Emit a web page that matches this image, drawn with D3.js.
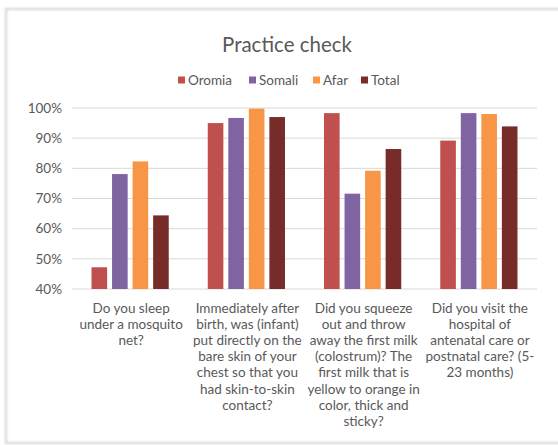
<!DOCTYPE html>
<html>
<head>
<meta charset="utf-8">
<script src="https://cdn.jsdelivr.net/npm/d3@7"></script>
<style>
  body { margin: 0; background: #fff; }
  text { font-family: Lato, "Open Sans", sans-serif; fill: #595959; }
</style>
</head>
<body>
<svg width="558" height="445"></svg>
<script>
// chart data
var categories = ['sleep', 'skin', 'colostrum', 'visit'];
var categoryLines = [
    ['Do you sleep', 'under a mosquito', 'net?'],
    ['Immediately after', 'birth, was (infant)', 'put directly on the', 'bare skin of your',
     'chest so that you', 'had skin-to-skin', 'contact?'],
    ['Did you squeeze', 'out and throw', 'away the first milk', '(colostrum)? The',
     'first milk that is', 'yellow to orange in', 'color, thick and', 'sticky?'],
    ['Did you visit the', 'hospital of', 'antenatal care or', 'postnatal care? (5-', '23 months)']
];
var seriesNames = ['Oromia', 'Somali', 'Afar', 'Total'];
var oromia = [47.2, 95.0, 98.3, 89.2];
var somali = [78.1, 96.7, 71.6, 98.3];
var afar = [82.3, 99.8, 79.2, 98.0];
var total = [64.4, 97.0, 86.4, 93.9];
var yTicks = [40, 50, 60, 70, 80, 90, 100];
var colors = ['#C0504D', '#8064A2', '#F79646', '#772C2A'];

var seriesValues = [oromia, somali, afar, total];

var svg = d3.select('svg');

// drop shadow for the chart frame
var defs = svg.append('defs');
var blur = defs.append('filter').attr('id', 'shadow')
    .attr('x', -0.05).attr('y', -0.05).attr('width', 1.1).attr('height', 1.1);
blur.append('feGaussianBlur').attr('stdDeviation', 1.2);

svg.append('rect')
    .attr('x', 6).attr('y', 9).attr('width', 570).attr('height', 434)
    .attr('fill', 'none').attr('stroke', '#c8c8c8').attr('stroke-width', 1.5)
    .attr('filter', 'url(#shadow)');
svg.append('line')
    .attr('x1', 6).attr('x2', 6).attr('y1', 10).attr('y2', 443)
    .attr('stroke', '#a6a6a6').attr('stroke-width', 2.5)
    .attr('filter', 'url(#shadow)');

var plot = {l: 72, r: 537, t: 108, b: 289};

var x0 = d3.scaleBand()
    .domain(categories)
    .range([plot.l, plot.r]);

var x1 = d3.scaleBand()
    .domain(seriesNames)
    .range([0, x0.bandwidth()])
    .paddingInner(0.24)
    .paddingOuter(0.95);

var y = d3.scaleLinear()
    .domain([40, 100])
    .range([plot.b, plot.t]);

// gridlines
svg.append('g')
    .selectAll('line')
    .data(yTicks)
    .enter()
    .append('line')
    .attr('x1', plot.l).attr('x2', plot.r)
    .attr('y1', function(d) { return y(d); })
    .attr('y2', function(d) { return y(d); })
    .attr('stroke', '#d9d9d9')
    .attr('stroke-width', 1);

// y axis labels
var yAxis = svg.append('g')
    .attr('transform', 'translate(' + (plot.l - 2) + ',0)')
    .call(d3.axisLeft(y).tickValues(yTicks).tickSize(0).tickPadding(8)
        .tickFormat(function(d) { return d + '%'; }));
yAxis.select('.domain').remove();
yAxis.selectAll('text')
    .attr('font-size', 13.5)
    .style('font-family', 'Lato, sans-serif')
    .attr('fill', '#595959');

// bars
var groups = svg.append('g')
    .selectAll('g')
    .data(categories)
    .enter()
    .append('g')
    .attr('transform', function(d) { return 'translate(' + x0(d) + ',0)'; });

groups.selectAll('rect')
    .data(function(d, i) {
        return seriesNames.map(function(s, j) {
            return {series: s, value: seriesValues[j][i], color: colors[j]};
        });
    })
    .enter()
    .append('rect')
    .attr('x', function(d) { return x1(d.series); })
    .attr('width', x1.bandwidth())
    .attr('y', function(d) { return y(d.value); })
    .attr('height', function(d) { return y(40) - y(d.value); })
    .attr('fill', function(d) { return d.color; });

// category labels, wrapped as in the original
svg.append('g')
    .selectAll('text')
    .data(categories)
    .enter()
    .append('text')
    .attr('text-anchor', 'middle')
    .attr('font-size', 13.5)
    .each(function(d, i) {
        var t = d3.select(this);
        categoryLines[i].forEach(function(line, k) {
            t.append('tspan')
                .attr('x', x0(d) + x0.bandwidth() / 2 + 1)
                .attr('y', 312.5 + k * 16.2)
                .text(line);
        });
    });

// title
svg.append('text')
    .attr('x', 287)
    .attr('y', 52)
    .attr('text-anchor', 'middle')
    .attr('font-size', 20.5)
    .text('Practice check');

// legend
var legendX = [178, 249, 313, 361];
var legend = svg.append('g')
    .selectAll('g')
    .data(seriesNames)
    .enter()
    .append('g')
    .attr('transform', function(d, i) { return 'translate(' + legendX[i] + ',80)'; });

legend.append('rect')
    .attr('x', 0).attr('y', -3.5)
    .attr('width', 7).attr('height', 7)
    .attr('fill', function(d, i) { return colors[i]; });

legend.append('text')
    .attr('x', 10)
    .attr('y', 4.8)
    .attr('font-size', 13.5)
    .text(function(d) { return d; });
</script>
</body>
</html>
